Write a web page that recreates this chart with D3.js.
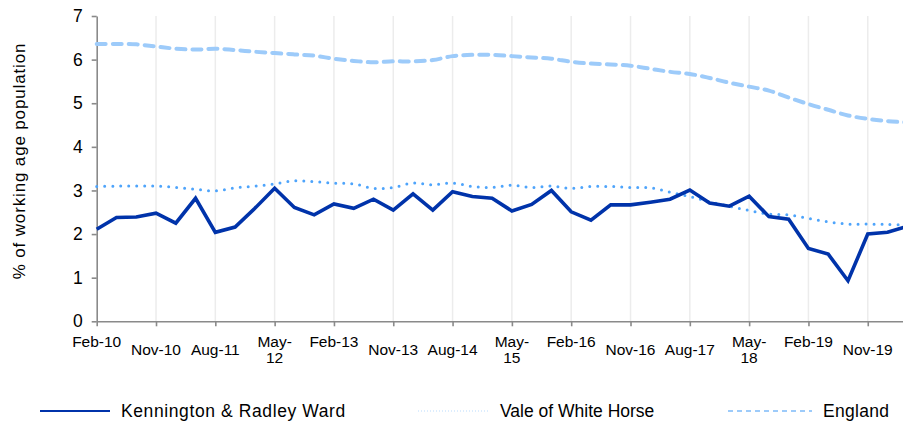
<!DOCTYPE html>
<html>
<head>
<meta charset="utf-8">
<script src="https://cdn.jsdelivr.net/npm/d3@7"></script>
<style>
    body { margin: 0; background: #fff; }
    svg { display: block; font-family: "Liberation Sans", Arial, sans-serif; }
</style>
</head>
<body>
<script>
// ! DATA ! //
const periods = [
    "Feb-10", "May-10", "Aug-10", "Nov-10", "Feb-11", "May-11", "Aug-11", "Nov-11",
    "Feb-12", "May-12", "Aug-12", "Nov-12", "Feb-13", "May-13", "Aug-13", "Nov-13",
    "Feb-14", "May-14", "Aug-14", "Nov-14", "Feb-15", "May-15", "Aug-15", "Nov-15",
    "Feb-16", "May-16", "Aug-16", "Nov-16", "Feb-17", "May-17", "Aug-17", "Nov-17",
    "Feb-18", "May-18", "Aug-18", "Nov-18", "Feb-19", "May-19", "Aug-19", "Nov-19",
    "Feb-20", "May-20"
];
const tickLabels = [
    "Feb-10", "Nov-10", "Aug-11", "May-12", "Feb-13", "Nov-13", "Aug-14",
    "May-15", "Feb-16", "Nov-16", "Aug-17", "May-18", "Feb-19", "Nov-19"
];
const yTicks = [0, 1, 2, 3, 4, 5, 6, 7];

const kennington = [
    2.11, 2.38, 2.39, 2.48, 2.25, 2.82, 2.04, 2.16, 2.59, 3.05,
    2.61, 2.44, 2.69, 2.59, 2.80, 2.55, 2.92, 2.55, 2.97, 2.86,
    2.82, 2.53, 2.68, 3.00, 2.51, 2.32, 2.67, 2.67, 2.73, 2.80,
    3.01, 2.71, 2.64, 2.87, 2.40, 2.34, 1.67, 1.54, 0.93, 2.00,
    2.04, 2.18
];
const vale = [
    3.09, 3.10, 3.10, 3.10, 3.07, 3.03, 2.99, 3.06, 3.10, 3.15,
    3.22, 3.20, 3.17, 3.15, 3.05, 3.07, 3.17, 3.13, 3.17, 3.09,
    3.07, 3.12, 3.07, 3.10, 3.05, 3.09, 3.09, 3.07, 3.06, 2.96,
    2.86, 2.74, 2.64, 2.54, 2.46, 2.44, 2.36, 2.28, 2.23, 2.23,
    2.22, 2.21
];
const england = [
    6.36, 6.36, 6.35, 6.30, 6.25, 6.23, 6.25, 6.22, 6.18, 6.15,
    6.12, 6.09, 6.02, 5.97, 5.94, 5.96, 5.96, 5.99, 6.08, 6.11,
    6.11, 6.08, 6.05, 6.02, 5.95, 5.91, 5.89, 5.86, 5.79, 5.72,
    5.67, 5.58, 5.47, 5.38, 5.29, 5.13, 4.98, 4.85, 4.72, 4.64,
    4.59, 4.56
];
const seriesNames = ["Kennington & Radley Ward", "Vale of White Horse", "England"];

// ! LAYOUT ! //
const width = 903;
const height = 423;
const plot = { left: 96.7, right: 907.3, top: 16, bottom: 321.3 };

const series = [
    { name: seriesNames[0], values: kennington, color: "#0033aa", width: 3.6, dash: null, curve: d3.curveLinear,
      legend: { x1: 40, x2: 110, tx: 121, width: 2.2, dash: null, spacing: "0.6px" } },
    { name: seriesNames[1], values: vale, color: "#4ea4fb", width: 3, dash: "0 8", curve: d3.curveCatmullRom,
      legend: { x1: 418, x2: 490, tx: 500, width: 1.2, dash: "1 2", color: "#b9dcfd", spacing: "0px" } },
    { name: seriesNames[2], values: england, color: "#9dcbfa", width: 4, dash: "9 7", curve: d3.curveCatmullRom,
      legend: { x1: 728, x2: 812, tx: 823, width: 2.2, dash: "5 4", spacing: "0.3px" } }
];

const svg = d3.select("body").append("svg")
    .attr("width", width)
    .attr("height", height);

const x = d3.scalePoint().domain(periods).range([plot.left, plot.right]);
const y = d3.scaleLinear().domain([0, 7]).range([plot.bottom, plot.top]);

// ^ GRIDLINES ^ //
svg.append("g")
    .selectAll("line")
    .data(tickLabels.slice(1))
    .enter()
    .append("line")
    .attr("x1", (d) => x(d))
    .attr("x2", (d) => x(d))
    .attr("y1", plot.top)
    .attr("y2", plot.bottom)
    .attr("stroke", "#ececec")
    .attr("stroke-width", 1.5);

// ^ Y AXIS ^ //
const yAxis = svg.append("g")
    .attr("transform", `translate(${plot.left},0)`)
    .call(d3.axisLeft(y).tickValues(yTicks).tickSize(5).tickSizeOuter(0).tickFormat(d3.format("d")));
yAxis.select(".domain").attr("stroke", "#8a8a8a").attr("stroke-width", 1.6);
yAxis.selectAll(".tick line").attr("stroke", "#8a8a8a").attr("stroke-width", 1.6);
yAxis.selectAll(".tick text")
    .attr("x", -14)
    .attr("fill", "#000")
    .style("font-size", "17.5px")
    .style("font-family", "'Liberation Sans', Arial, sans-serif");

// ^ X AXIS ^ //
const xAxis = svg.append("g")
    .attr("transform", `translate(0,${plot.bottom})`)
    .call(d3.axisBottom(x).tickValues(tickLabels).tickSize(5).tickSizeOuter(0).tickFormat(""));
xAxis.select(".domain").attr("stroke", "#8a8a8a").attr("stroke-width", 1.6);
xAxis.selectAll(".tick line").attr("stroke", "#8a8a8a").attr("stroke-width", 1.6);

// labels: "May-" wraps to two lines, Feb sits on the upper row
const xLabels = svg.append("g")
    .selectAll("text")
    .data(tickLabels)
    .enter()
    .append("text")
    .attr("x", (d) => x(d))
    .attr("text-anchor", "middle")
    .attr("fill", "#000")
    .style("font-size", "15.5px");

xLabels.each(function (d) {
    const t = d3.select(this);
    if (d.startsWith("May")) {
        const parts = d.split("-");
        t.append("tspan").attr("x", x(d)).attr("y", 346.5).text(parts[0] + "-");
        t.append("tspan").attr("x", x(d)).attr("y", 362.5).text(parts[1]);
    } else if (d.startsWith("Feb")) {
        t.attr("y", 346.5).text(d);
    } else {
        t.attr("y", 355).text(d);
    }
});

// ^ Y TITLE ^ //
svg.append("text")
    .attr("transform", "translate(25,161) rotate(-90)")
    .attr("text-anchor", "middle")
    .attr("fill", "#000")
    .style("font-size", "17px")
    .style("letter-spacing", "0.85px")
    .text("% of working age population");

// ^ LINES ^ //
const linesG = svg.append("g");
series.slice().reverse().forEach((s) => {
    const line = d3.line()
        .x((d, i) => x(periods[i]))
        .y((d) => y(d))
        .curve(s.curve);
    linesG.append("path")
        .datum(s.values)
        .attr("d", line)
        .attr("fill", "none")
        .attr("stroke", s.color)
        .attr("stroke-width", s.width)
        .attr("stroke-linecap", s.dash ? "round" : "butt")
        .attr("stroke-linejoin", "miter")
        .attr("stroke-dasharray", s.dash);
});

// ^ LEGEND ^ //
const legend = svg.append("g").attr("transform", "translate(0,411)");
series.forEach((s) => {
    legend.append("line")
        .attr("x1", s.legend.x1)
        .attr("x2", s.legend.x2)
        .attr("y1", 0)
        .attr("y2", 0)
        .attr("stroke", s.legend.color || s.color)
        .attr("stroke-width", s.legend.width)
        .attr("stroke-dasharray", s.legend.dash);
    legend.append("text")
        .attr("x", s.legend.tx)
        .attr("y", 6)
        .attr("fill", "#000")
        .style("font-size", "17.5px")
        .style("letter-spacing", s.legend.spacing)
        .text(s.name);
});
</script>
</body>
</html>
